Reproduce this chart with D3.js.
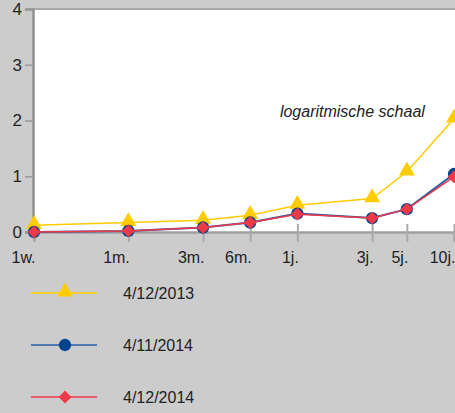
<!DOCTYPE html>
<html>
<head>
<meta charset="utf-8">
<script src="https://cdn.jsdelivr.net/npm/d3@7"></script>
<style>
html,body{margin:0;padding:0;background:#cccccc;}
svg{display:block;font-family:Arial,"Liberation Sans",sans-serif;}
</style>
</head>
<body>
<svg id="chart" width="455" height="413"></svg>
<script>
// maturities in months (log scale)
const maturities = [0.25, 1, 3, 6, 12, 36, 60, 120];
const tickLabels = ["1w.", "1m.", "3m.", "6m.", "1j.", "3j.", "5j.", "10j."];
const yTicks = [0, 1, 2, 3, 4];
const seriesNames = ["4/12/2013", "4/11/2014", "4/12/2014"];
const values2013 = [0.12, 0.17, 0.21, 0.30, 0.48, 0.60, 1.08, 2.03];
const values2014nov = [0.00, 0.02, 0.08, 0.17, 0.33, 0.25, 0.41, 1.04];
const values2014dec = [0.00, 0.02, 0.08, 0.17, 0.32, 0.25, 0.41, 0.99];
const annotation = "logaritmische schaal";

const svg = d3.select("#chart");
const mLeft = 34, mRight = 454, mTop = 9, mBottom = 232;

const x = d3.scaleLog().domain([0.25, 120]).range([mLeft, mRight]);
const y = d3.scaleLinear().domain([0, 4]).range([mBottom, mTop]);

// plot background
svg.append("rect").attr("x", mLeft).attr("y", mTop)
  .attr("width", 455 - mLeft).attr("height", mBottom - mTop).attr("fill", "#ffffff");
// top border
svg.append("line").attr("x1", mLeft).attr("x2", 455).attr("y1", mTop).attr("y2", mTop)
  .attr("stroke", "#a8a8a8").attr("stroke-width", 2);

// y axis
const yAxis = d3.axisLeft(y).tickValues(yTicks).tickSize(8).tickPadding(3).tickFormat(d3.format("d"));
const gy = svg.append("g").attr("transform", `translate(${mLeft - 1},0)`).call(yAxis);
gy.select(".domain").attr("stroke", "#909090").attr("stroke-width", 2.5);
gy.selectAll(".tick line").attr("stroke", "#999999").attr("stroke-width", 1.5);
gy.selectAll(".tick text").attr("font-size", 17).attr("fill", "#222").attr("font-family", "Arial, Liberation Sans, sans-serif");

// x axis
const xAxis = d3.axisBottom(x).tickValues(maturities)
  .tickFormat((d, i) => tickLabels[i]).tickSize(10).tickPadding(10);
const gx = svg.append("g").attr("transform", `translate(0,${mBottom})`).call(xAxis);
gx.select(".domain").attr("stroke", "#a0a0a0").attr("stroke-width", 2.5);
gx.selectAll(".tick line").attr("stroke", "#aaaaaa").attr("stroke-width", 2).attr("y1", -8);
gx.selectAll(".tick text").attr("font-size", 16).attr("fill", "#222")
  .attr("text-anchor", "end").attr("dx", 1)
  .attr("font-family", "Arial, Liberation Sans, sans-serif");

// annotation
svg.append("text").attr("x", x(12) + 55).attr("y", y(2.06))
  .attr("text-anchor", "middle").attr("font-size", 16).attr("font-style", "italic")
  .attr("fill", "#222").text(annotation);

const series = [
  {name: seriesNames[0], values: values2013, line: "#ffcc00", fill: "#ffcc00", symbol: d3.symbolTriangle, size: 110, rot: 0, dy: -1, lw: 1.5},
  {name: seriesNames[1], values: values2014nov, line: "#245ca3", fill: "#00448e", symbol: d3.symbolCircle, size: 120, rot: 0, dy: 0, lw: 2},
  {name: seriesNames[2], values: values2014dec, line: "#ee3a48", fill: "#ee3a48", symbol: d3.symbolSquare, size: 82, rot: 45, dy: 0, lw: 1.5}
];

const line = d3.line().x((d, i) => x(maturities[i])).y(d => y(d));

series.forEach(s => {
  const g = svg.append("g");
  g.append("path").datum(s.values).attr("d", line).attr("fill", "none")
    .attr("stroke", s.line).attr("stroke-width", s.lw);
  g.selectAll("path.m").data(s.values).enter().append("path").attr("class", "m")
    .attr("d", d3.symbol().type(s.symbol).size(s.size))
    .attr("transform", (d, i) => `translate(${x(maturities[i])},${y(d) + s.dy}) rotate(${s.rot})`)
    .attr("fill", s.fill);
});

// legend
const legY = [293, 345, 397];
series.forEach((s, i) => {
  const g = svg.append("g").attr("transform", `translate(0,${legY[i]})`);
  g.append("line").attr("x1", 31).attr("x2", 97).attr("y1", 0).attr("y2", 0)
    .attr("stroke", s.line).attr("stroke-width", 1.5);
  g.append("path").attr("d", d3.symbol().type(s.symbol).size(s.size))
    .attr("transform", `translate(65,${s.dy}) rotate(${s.rot})`).attr("fill", s.fill);
  g.append("text").attr("x", 123).attr("y", 0).attr("dy", "0.35em")
    .attr("font-size", 16).attr("fill", "#222").text(s.name);
});
</script>
</body>
</html>
